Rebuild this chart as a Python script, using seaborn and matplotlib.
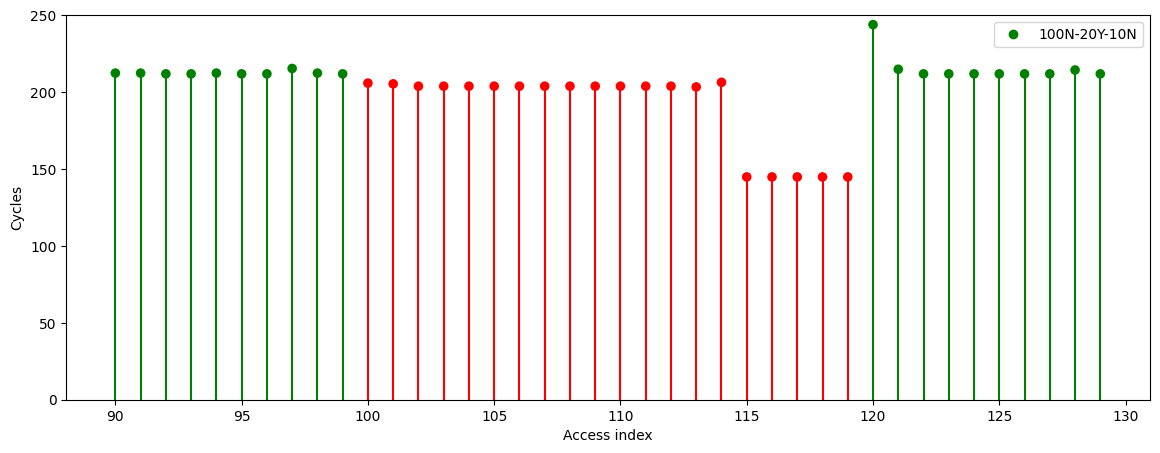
import matplotlib
matplotlib.use("Agg")
import matplotlib.pyplot as plt
import pandas as pd
import seaborn as sns

# access indices and cycle counts per phase
idx_pre = list(range(90, 100))
cyc_pre = [212.5, 212.5, 212, 212, 212.5, 212, 212, 215.5, 212.5, 212]
idx_hit = list(range(100, 120))
cyc_hit = [206, 205.5, 204, 204, 204, 204, 204, 204, 204, 204,
           204, 204, 204, 203.5, 206.5, 145, 145, 145, 145, 145]
idx_post = list(range(120, 130))
cyc_post = [244, 215, 212, 212, 212, 212, 212, 212, 214.5, 212]

LABEL = "100N-20Y-10N"

df = pd.DataFrame({
    "idx": idx_pre + idx_hit + idx_post,
    "cycles": cyc_pre + cyc_hit + cyc_post,
    "phase": ["N"] * len(idx_pre) + ["Y"] * len(idx_hit) + ["N"] * len(idx_post),
})
PALETTE = {"N": "green", "Y": "red"}

fig, ax = plt.subplots(figsize=(11.6, 4.53), dpi=100)
fig.subplots_adjust(left=0.057, right=0.991, top=0.966, bottom=0.117)

for phase, sub in df.groupby("phase"):
    ax.vlines(sub["idx"], 0, sub["cycles"], color=PALETTE[phase], linewidth=1.5, zorder=1)

sns.scatterplot(data=df, x="idx", y="cycles", hue="phase", palette=PALETTE,
                s=48, linewidth=0, legend=False, ax=ax, zorder=2)

handle = plt.Line2D([], [], marker="o", color="green", linestyle="none", markersize=6)
ax.legend([handle], [LABEL], loc="upper right")

ax.set_ylim(0, 250)
ax.set_xlabel("Access index")
ax.set_ylabel("Cycles")

plt.savefig("out.png", dpi=100)
